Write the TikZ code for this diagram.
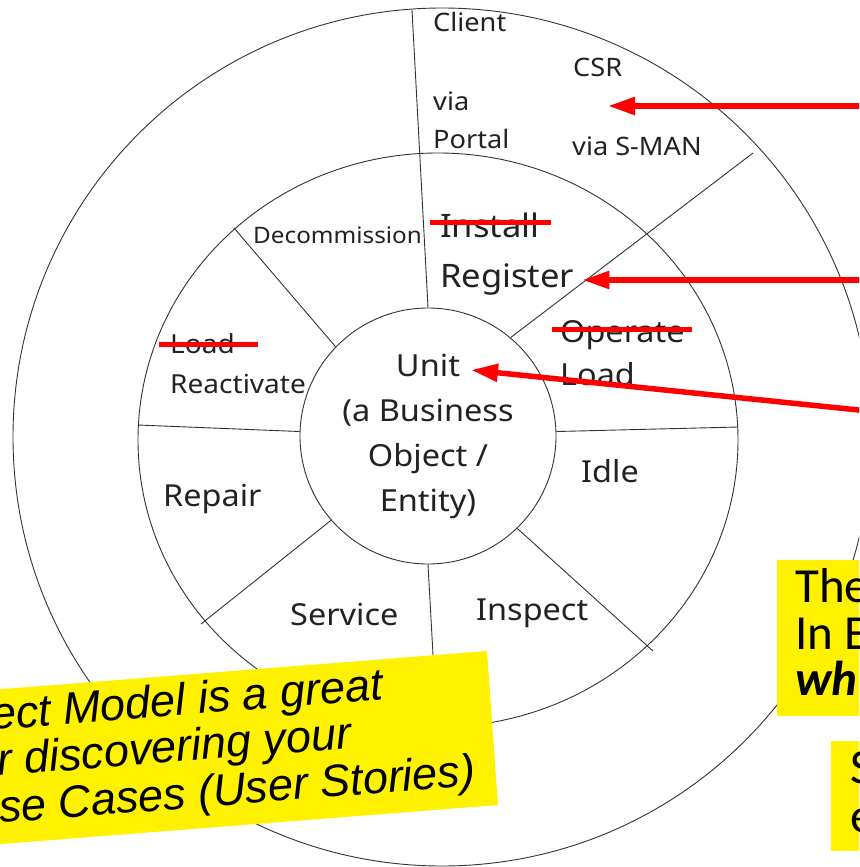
\documentclass[tikz,border=0pt]{standalone}
\usepackage{fontspec}
\setmainfont{Noto Sans}[FakeStretch=1.07]
\newfontfamily\storyfont{Liberation Sans}
\newfontfamily\notefont{Carlito}
\usepackage{tikz}
\usetikzlibrary{arrows.meta,positioning,calc}

\definecolor{labelgray}{HTML}{222222}
\definecolor{ringgray}{HTML}{333333}

\tikzset{
    ring/.style={draw=ringgray, line width=0.9pt},
    lbl/.style={anchor=base west, inner sep=0pt, text=labelgray},
    strikeout/.style={draw=red, line width=5pt},
    pointer/.style={draw=red, line width=5.5pt, -{Triangle[length=27pt,width=17pt]}},
    story/.style={anchor=base west, inner sep=0pt, rotate=4.5, font=\storyfont\itshape\fontsize{45}{47}\selectfont},
    note/.style={anchor=base west, inner sep=0pt, font=\notefont\fontsize{49}{47}\selectfont},
}

\begin{document}
\begin{tikzpicture}[x=1pt, y=-1pt]
    \useasboundingbox (0,0) rectangle (859,867);
    \clip (0,0) rectangle (859,867);
    \fill[white] (0,0) rectangle (859,867);

    % the three rings
    \draw[ring] (442,437) circle [radius=429pt];
    \draw[ring] (438,440) ellipse [x radius=300pt, y radius=287pt];
    \node[circle, ring, minimum size=256pt, inner sep=0pt, align=center, text=labelgray,
          font=\fontsize{30.4}{45}\selectfont] (unit) at (428,436) {Unit\\(a Business\\Object /\\Entity)};

    % spokes
    \draw[ring] (unit.90) -- (412,10);
    \draw[ring] (unit.136) -- (234,228);
    \draw[ring] (unit.178) -- (138,425);
    \draw[ring] (unit.221) -- (201,624);
    \draw[ring] (unit.270) -- (437,727);
    \draw[ring] (unit.314) -- (653,651);
    \draw[ring] (unit.2) -- (738,427);
    \draw[ring] (unit.50) -- (753,153);

    % outer ring: who does it
    \begin{scope}[font=\fontsize{25.4}{30}\selectfont]
        \node[lbl] (client) at (433,32) {Client};
        \node[lbl] (via) at (433,110) {via};
        \node[lbl] (portal) at (433,148) {Portal};
        \node[lbl] (csr) at (573,77) {CSR};
        \node[lbl] (viasman) at (572,155) {via S-MAN};
    \end{scope}

    % middle ring: the life cycle
    \node[lbl, font=\fontsize{22.7}{28}\selectfont] (decommission) at (253,243) {Decommission};
    \begin{scope}[font=\fontsize{32.3}{38}\selectfont]
        \node[lbl] (install) at (440,237) {Install};
        \node[lbl] (register) at (440,287) {Register};
    \end{scope}
    \begin{scope}[font=\fontsize{30.3}{36}\selectfont]
        \node[lbl] (operate) at (560,342) {Operate};
        \node[lbl] (loadright) at (560,385) {Load};
        \node[lbl] (idle) at (581,482) {Idle};
        \node[lbl] (repair) at (163,506) {Repair};
        \node[lbl] (service) at (290,625) {Service};
        \node[lbl] (inspect) at (476,620) {Inspect};
    \end{scope}
    \begin{scope}[font=\fontsize{26.2}{30}\selectfont]
        \node[lbl] (loadleft) at (170,353) {Load};
        \node[lbl] (reactivate) at (170,393) {Reactivate};
    \end{scope}

    % crossed out
    \draw[strikeout] ([shift={(-10,-15)}]install.base west) -- ([shift={(11,-15)}]install.base east);
    \draw[strikeout] ([shift={(-8,-13)}]operate.base west) -- ([shift={(7,-13)}]operate.base east);
    \draw[strikeout] ([shift={(-11,-9)}]loadleft.base west) -- ([shift={(23,-9)}]loadleft.base east);

    % pointers
    \coordinate (tailcsr) at (875,106);
    \coordinate (tipcsr) at (608,106);
    \coordinate (tailreg) at (875,280);
    \coordinate (tailunit) at (875,411.7);
    \coordinate (tipunit) at (471,370);
    \draw[pointer] (tailcsr) -- (tipcsr);
    \draw[pointer] (tailreg) -- ([shift={(8,-7)}]register.base east);
    \draw[pointer] (tailunit) -- (tipunit);

    % yellow notes
    \fill[yellow] (-20,690.8) -- (487,651) -- (498,805) -- (-9,844.8) -- cycle;
    \node[story] (story1) at (-8,730) {ect Model is a great};
    \node[story] (story2) at (-2,776) {r discovering your};
    \node[story] (story3) at (0,823) {se Cases (User Stories)};

    \fill[yellow] (777,560) rectangle (870,716);
    \node[note] (the) at (795,602) {The};
    \node[note] (ine) at (795,649) {In E};
    \node[note, font=\notefont\bfseries\itshape\fontsize{49}{47}\selectfont] (wh) at (795,695) {wh};

    \fill[yellow] (831,741) rectangle (870,851);
    \node[note] (s) at (850,783) {S};
    \node[note] (e) at (850,832) {e};
\end{tikzpicture}
\end{document}
